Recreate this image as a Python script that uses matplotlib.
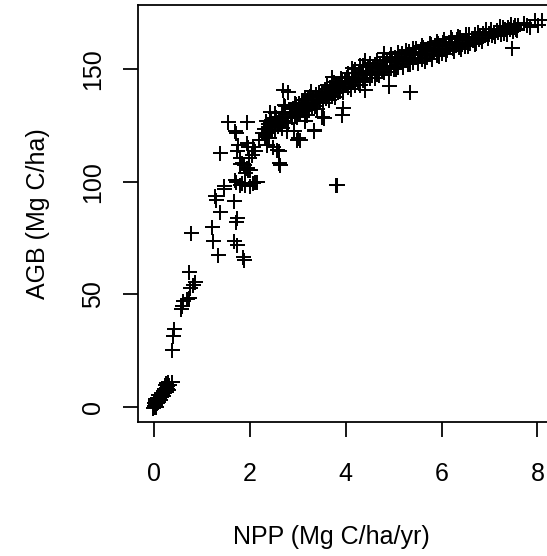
import matplotlib
matplotlib.use('Agg')
import matplotlib.pyplot as plt

# points near the origin
low_npp = [-0.01, 0.00, 0.01, 0.02, 0.00, 0.03, 0.04, 0.05, 0.02, 0.06, 0.07, 0.08, 0.09, 0.10, 0.11,
           0.12, 0.13, 0.14, 0.15, 0.16, 0.17, 0.18, 0.19, 0.20, 0.21, 0.22, 0.23, 0.24, 0.25, 0.26,
           0.27, 0.28, 0.30, 0.31, 0.37, 0.01, 0.04, 0.06, 0.03, 0.08, 0.12, 0.18, 0.25, 0.29, -0.02]
low_agb = [0.0, 0.2, 0.5, 1.0, 1.5, 0.8, 1.8, 2.5, 2.2, 1.5, 3.0, 2.2, 3.6, 4.0, 3.2,
           4.6, 5.0, 4.2, 5.5, 6.0, 5.2, 6.5, 7.0, 6.2, 7.4, 8.0, 9.8, 7.0, 8.5, 6.5,
           9.0, 8.0, 7.5, 9.5, 11.2, 3.0, 0.0, 4.0, 3.5, 5.0, 2.8, 4.8, 10.5, 11.0, -0.5]

# steep rise
rise_npp = [0.37, 0.40, 0.42, 0.58, 0.61, 0.56, 0.68, 0.72, 0.75, 0.82, 0.86, 0.72, 0.77]
rise_agb = [25.3, 31.6, 34.6, 44.6, 46.8, 43.5, 48.0, 48.3, 52.9, 54.2, 55.6, 59.8, 77.2]

# scattered middle part
mid_npp = [1.20, 1.24, 1.34, 1.38, 1.27, 1.29, 1.45, 1.66, 1.73, 1.71, 1.66, 1.74, 1.85, 1.87, 1.71,
           1.79, 1.90, 1.97, 2.00, 2.11, 1.87, 1.79, 1.38, 1.73, 2.04, 2.11, 1.97, 2.07, 1.76, 1.93,
           1.71, 1.55, 1.94, 1.69, 1.80, 1.83, 1.94, 2.00, 1.69, 1.83, 2.07, 1.90, 1.98, 2.14, 1.45]
mid_agb = [80.1, 73.5, 67.6, 86.8, 93.5, 92.0, 96.9, 91.6, 84.1, 82.0, 73.5, 72.0, 66.5, 65.2, 100.0,
           98.7, 103.9, 105.3, 98.0, 99.7, 107.6, 108.0, 112.7, 113.5, 112.0, 113.5, 115.7, 115.7, 116.4, 117.2,
           121.6, 126.8, 126.4, 122.4, 110.5, 108.3, 106.1, 105.3, 100.9, 99.4, 99.4, 98.7, 110.6, 100.1, 98.0]

# bend between 2 and 3.5
bend_npp = [2.25, 2.32, 2.35, 2.35, 2.42, 2.42, 2.46, 2.49, 2.53, 2.56, 2.59, 2.60, 2.60, 2.62, 2.67,
            2.70, 2.73, 2.77, 2.80, 2.80, 2.87, 2.91, 2.94, 2.98, 2.98, 3.01, 3.01, 3.05, 3.08, 3.12,
            3.19, 3.22, 3.29, 3.33, 3.33, 3.43, 3.50, 3.54, 2.18, 3.15, 2.30, 2.38, 2.45, 2.50, 2.55,
            2.58, 2.63, 2.66, 2.70, 2.74, 2.78, 2.83, 2.86, 2.90, 2.94, 2.97, 2.47, 2.52, 2.62, 2.72,
            2.33, 2.40, 2.32]
bend_agb = [121.6, 120.1, 116.4, 121.6, 131.2, 124.6, 126.0, 115.7, 123.1, 114.2, 126.8, 108.3, 113.5, 107.6, 123.9,
            140.9, 133.5, 122.4, 140.1, 126.0, 129.0, 122.4, 135.0, 129.0, 118.7, 130.5, 119.4, 118.7, 136.4, 136.4,
            129.8, 137.9, 132.7, 123.1, 122.4, 137.9, 129.0, 128.3, 118.7, 127.0, 123.5, 125.5, 127.6, 125.0, 129.0,
            124.8, 128.2, 131.0, 127.0, 130.0, 128.5, 132.4, 130.8, 133.0, 129.6, 134.5, 122.8, 130.7, 125.5, 134.0,
            127.0, 119.5, 120.9]

# dense band, 3 to 4
band_a_npp = [3.02, 3.05, 3.08, 3.11, 3.14, 3.17, 3.20, 3.23, 3.26, 3.29, 3.32, 3.35, 3.38, 3.41, 3.44,
              3.47, 3.50, 3.53, 3.56, 3.59, 3.62, 3.65, 3.68, 3.71, 3.74, 3.77, 3.80, 3.83, 3.86, 3.89,
              3.92, 3.95, 3.98, 3.04, 3.10, 3.16, 3.22, 3.28, 3.34, 3.40, 3.46, 3.52, 3.58, 3.64, 3.70,
              3.76, 3.82, 3.88, 3.94, 4.00]
band_a_agb = [135.1, 131.0, 134.6, 132.2, 137.0, 133.1, 136.2, 131.9, 138.0, 134.4, 137.5, 133.6, 139.0, 135.2, 140.1,
              136.0, 139.3, 134.9, 141.2, 137.1, 140.4, 136.5, 142.3, 138.2, 141.9, 137.6, 143.4, 139.9, 144.1, 140.2,
              144.8, 141.1, 145.0, 133.9, 136.3, 131.5, 134.0, 140.3, 135.1, 132.4, 138.6, 136.8, 139.8, 138.4, 141.0,
              139.3, 142.4, 141.6, 140.0, 143.6]

# 4 to 5
band_b_npp = [4.02, 4.05, 4.07, 4.10, 4.12, 4.15, 4.17, 4.20, 4.22, 4.25, 4.27, 4.30, 4.32, 4.35, 4.37,
              4.40, 4.42, 4.45, 4.47, 4.50, 4.52, 4.55, 4.57, 4.60, 4.62, 4.65, 4.67, 4.70, 4.72, 4.75,
              4.77, 4.80, 4.82, 4.85, 4.87, 4.90, 4.92, 4.95, 4.97, 5.00]
band_b_agb = [146.5, 142.1, 144.9, 141.5, 146.3, 144.4, 148.5, 143.1, 145.9, 144.8, 148.3, 143.1, 149.5, 145.1, 147.9,
              144.5, 149.3, 147.4, 151.5, 146.1, 148.9, 147.8, 151.2, 146.0, 152.4, 148.0, 150.7, 147.3, 152.1, 150.2,
              154.2, 148.8, 151.6, 150.5, 153.9, 148.7, 155.1, 150.7, 153.4, 150.0]

# 5 to 6
band_c_npp = [5.02, 5.05, 5.07, 5.10, 5.12, 5.15, 5.17, 5.20, 5.22, 5.25, 5.27, 5.30, 5.32, 5.35, 5.37,
              5.40, 5.42, 5.45, 5.47, 5.50, 5.52, 5.55, 5.57, 5.60, 5.62, 5.65, 5.67, 5.70, 5.72, 5.75,
              5.77, 5.80, 5.82, 5.85, 5.87, 5.90, 5.92, 5.95, 5.97, 6.00]
band_c_agb = [155.6, 151.8, 154.1, 151.1, 155.3, 153.8, 157.3, 152.5, 154.9, 154.0, 157.0, 152.5, 158.0, 154.2, 156.5,
              153.5, 157.7, 156.2, 159.7, 154.9, 157.2, 156.3, 159.2, 154.7, 160.1, 156.3, 158.5, 155.5, 159.6, 158.1,
              161.5, 156.7, 159.0, 158.1, 161.0, 156.5, 161.9, 158.1, 160.3, 157.3]

# 6 to 7
band_d_npp = [6.03, 6.06, 6.09, 6.12, 6.15, 6.18, 6.21, 6.24, 6.27, 6.30, 6.33, 6.36, 6.39, 6.42, 6.45,
              6.48, 6.51, 6.54, 6.57, 6.60, 6.63, 6.66, 6.69, 6.72, 6.75, 6.78, 6.81, 6.84, 6.87, 6.90,
              6.93, 6.96, 6.99]
band_d_agb = [162.2, 159.0, 160.9, 158.4, 162.0, 160.8, 163.7, 159.6, 161.7, 160.9, 163.5, 159.8, 164.3, 161.1, 163.1,
              160.6, 164.2, 162.9, 165.8, 161.8, 163.9, 163.1, 165.6, 161.9, 166.5, 163.3, 165.3, 162.7, 166.3, 165.1,
              168.0, 164.0, 166.0]

# 7 and up
band_e_npp = [7.03, 7.06, 7.09, 7.12, 7.15, 7.18, 7.21, 7.24, 7.27, 7.30, 7.33, 7.36, 7.39, 7.42, 7.45,
              7.48, 7.52, 7.56, 7.60, 7.54, 7.57, 7.71, 7.78, 7.85, 7.95, 8.02, 8.09]
band_e_agb = [167.8, 165.2, 166.8, 164.7, 167.7, 166.6, 169.1, 165.7, 169.0, 166.4, 168.0, 165.9, 168.9, 167.8, 170.3,
              166.9, 168.9, 168.0, 169.9, 169.8, 167.6, 170.5, 169.8, 169.0, 172.0, 169.8, 172.0]

# upper and lower rims of the band
rim_hi_npp = [3.60, 3.75, 3.90, 4.05, 4.20, 4.35, 4.50, 4.65, 4.80, 4.95, 5.10, 5.25, 5.40,
              5.60, 5.75, 5.90, 6.05, 6.20, 6.35, 6.50]
rim_hi_agb = [143.0, 144.5, 146.3, 148.2, 150.0, 151.8, 153.0, 154.3, 155.6, 156.8, 157.6, 158.5, 159.6,
              160.8, 161.9, 162.8, 163.4, 164.2, 165.0, 165.8]
rim_lo_npp = [5.05, 5.20, 5.35, 5.50, 5.65, 5.80, 5.95, 6.10, 6.25, 6.40, 6.55, 6.70]
rim_lo_agb = [150.2, 151.0, 152.2, 153.0, 153.9, 154.6, 155.8, 157.0, 158.0, 159.0, 160.2, 161.3]

# stray points off the band
odd_npp = [3.72, 4.14, 4.30, 4.41, 4.79, 4.90, 5.33, 4.40, 3.92, 3.95, 7.47, 3.80, 3.82]
odd_agb = [146.8, 150.8, 152.0, 154.2, 157.2, 142.4, 140.1, 140.8, 129.8, 132.7, 159.4, 98.8, 98.6]

npp = (low_npp + rise_npp + mid_npp + bend_npp + band_a_npp + band_b_npp
       + band_c_npp + band_d_npp + band_e_npp + rim_hi_npp + rim_lo_npp + odd_npp)
agb = (low_agb + rise_agb + mid_agb + bend_agb + band_a_agb + band_b_agb
       + band_c_agb + band_d_agb + band_e_agb + rim_hi_agb + rim_lo_agb + odd_agb)

plt.rcParams['font.family'] = ['Liberation Sans', 'DejaVu Sans']

fig = plt.figure(figsize=(547 / 150, 556 / 150), dpi=150)
ax = fig.add_axes([138.3 / 547, 1 - 422.3 / 556, (549 - 138.3) / 547, (422.3 - 5.3) / 556])

ax.plot(npp, agb, linestyle='none', marker='+', color='black',
        markersize=7.2, markeredgewidth=0.95)

ax.set_xlim(-0.328, 8.24)
ax.set_ylim(-6.94, 178.5)
ax.set_xticks([0, 2, 4, 6, 8])
ax.set_yticks([0, 50, 100, 150])

for s in ax.spines.values():
    s.set_linewidth(0.85)
ax.tick_params(direction='out', length=7.2, width=0.85, labelsize=12, color='black')
ax.tick_params(axis='x', pad=12.0)
ax.tick_params(axis='y', pad=8.6, labelrotation=90)
for lab in ax.get_yticklabels():
    lab.set_verticalalignment('center')

ax.set_xlabel('NPP (Mg C/ha/yr)', fontsize=12)
ax.set_ylabel('AGB (Mg C/ha)', fontsize=12)
ax.xaxis.set_label_coords((331 - 138.3) / 410.7, (422.3 - 525) / 417)
ax.yaxis.set_label_coords((50 - 138.3) / 410.7, 0.5)

fig.savefig('out.png', dpi=150)
